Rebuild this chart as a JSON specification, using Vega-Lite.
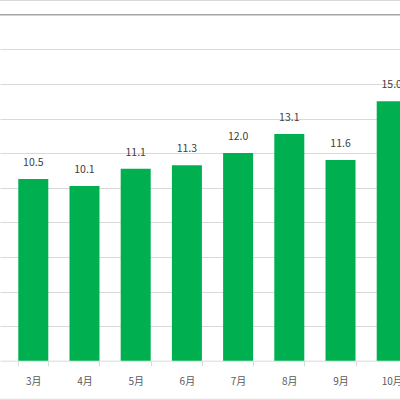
{
  "$schema": "https://vega.github.io/schema/vega-lite/v6.json",
  "width": 400,
  "height": 400,
  "autosize": {"type": "none"},
  "padding": 0,
  "background": "white",
  "config": {"view": {"stroke": null}, "font": "Noto Sans CJK JP"},
  "data": {
    "values": [
      {"month": "3月", "value": 10.5},
      {"month": "4月", "value": 10.1},
      {"month": "5月", "value": 11.1},
      {"month": "6月", "value": 11.3},
      {"month": "7月", "value": 12.0},
      {"month": "8月", "value": 13.1},
      {"month": "9月", "value": 11.6},
      {"month": "10月", "value": 15.0}
    ]
  },
  "layer": [
    {
      "mark": {"type": "bar", "color": "#00B050"},
      "encoding": {
        "x": {
          "field": "month",
          "type": "ordinal",
          "sort": null,
          "scale": {"range": [0, 425], "paddingInner": 0.414, "paddingOuter": 0.357},
          "axis": {
            "title": null,
            "labelAngle": 0,
            "tickBand": "extent",
            "tickSize": 5,
            "tickColor": "#d9d9d9",
            "domainColor": "#d9d9d9",
            "labelColor": "#595959",
            "labelFontSize": 10,
            "labelPadding": 11,
            "offset": -39.3,
            "grid": false
          }
        },
        "y": {
          "field": "value",
          "type": "quantitative",
          "scale": {"domain": [-2.27, 20.85], "nice": false, "zero": false},
          "axis": {
            "title": null,
            "values": [2, 4, 6, 8, 10, 12, 14, 16, 18],
            "labels": false,
            "ticks": false,
            "domain": false,
            "grid": true,
            "gridColor": "#d9d9d9"
          }
        }
      }
    },
    {
      "mark": {"type": "text", "baseline": "alphabetic", "dy": -13, "fontSize": 10.5, "color": "#404040"},
      "encoding": {
        "x": {"field": "month", "type": "ordinal", "sort": null},
        "y": {"field": "value", "type": "quantitative"},
        "text": {"field": "value", "type": "quantitative", "format": ".1f"}
      }
    },
    {
      "data": {"values": [{}]},
      "mark": {"type": "rule", "color": "#a6a6a6", "strokeWidth": 1.5},
      "encoding": {"y": {"datum": 20}}
    },
    {
      "data": {"values": [{}]},
      "mark": {"type": "rule", "color": "#d9d9d9", "strokeWidth": 1},
      "encoding": {"y": {"datum": 20.82}}
    },
    {
      "data": {"values": [{}]},
      "mark": {"type": "rule", "color": "#d9d9d9", "strokeWidth": 1},
      "encoding": {"y": {"datum": -2.23}}
    }
  ]
}
